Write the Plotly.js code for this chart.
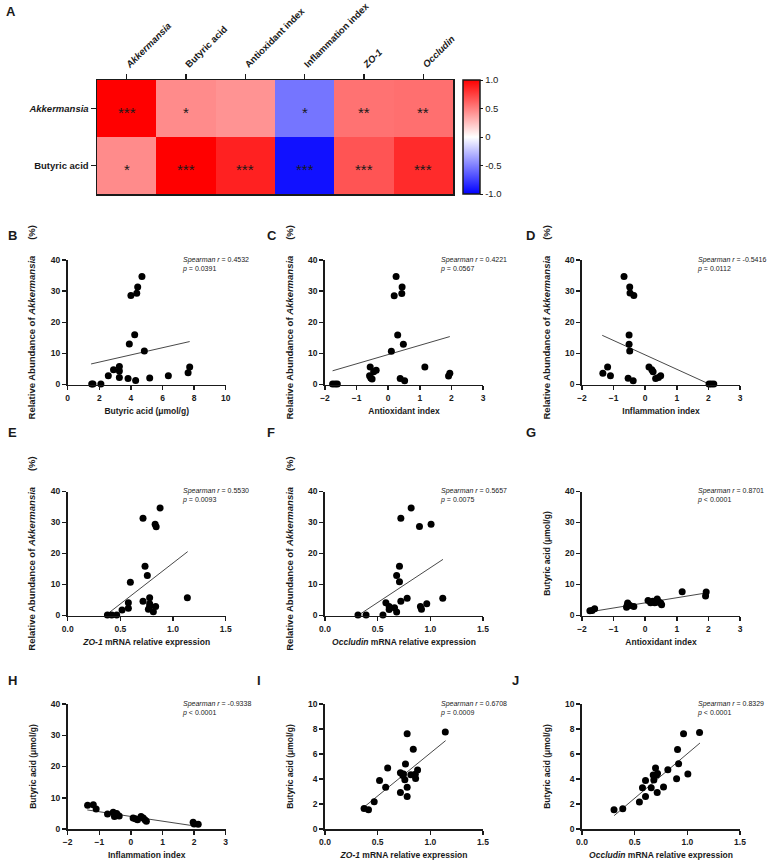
<!DOCTYPE html>
<html><head><meta charset="utf-8">
<script src="https://cdn.plot.ly/plotly-3.0.1.min.js"></script>
<style>html,body{margin:0;padding:0;background:#fff}</style>
</head><body><div id="chart" style="width:767px;height:860px"></div>
<script>
// ---------- Heatmap data (panel A) ----------
const hmCols = ['Akkermansia','Butyric acid','Antioxidant index','Inflammation index','ZO-1','Occludin'];
const hmColLabels = ['<i>Akkermansia</i>','Butyric acid','Antioxidant index','Inflammation index','<i>ZO-1</i>','<i>Occludin</i>'];
const hmRows = ['Akk','Butyric'];
const hmRowLabels = ['<i>Akkermansia</i>','Butyric acid'];
const hmZ = [[1, 0.4532, 0.4221, -0.5416, 0.5530, 0.5657],
             [0.4532, 1, 0.8701, -0.9338, 0.6708, 0.8329]];
const hmStars = [['***','*','','*','**','**'],
                 ['*','***','***','***','***','***']];
const cbTicks = [1, 0.5, 0, -0.5, -1];
const cbTickText = ['1.0','0.5','0','-0.5','-1.0'];

// ---------- Scatter data (panels B-J) ----------
const bX = [1.52,1.60,2.10,2.57,2.90,3.27,3.27,3.27,3.82,3.90,4.00,4.24,4.30,4.37,4.43,4.70,4.85,5.19,6.37,7.62,7.72];
const bY = [0.2,0.2,0.2,2.8,4.7,5.8,4.3,2.25,1.9,13.0,28.6,16.0,1.3,29.3,31.3,34.7,10.8,2.1,2.8,3.75,5.6];
const bFitX = [1.48,7.72], bFitY = [6.6,13.8];

const cX = [-1.76,-1.68,-1.61,-0.57,-0.59,-0.55,-0.51,-0.46,-0.38,0.10,0.19,0.25,0.30,0.38,0.43,0.44,0.48,0.52,1.16,1.91,1.95];
const cY = [0.2,0.2,0.2,5.6,2.8,2.1,1.8,4.1,4.6,10.7,28.5,34.7,15.9,1.9,29.2,31.3,12.9,1.2,5.6,2.7,3.6];
const cFitX = [-1.76,1.95], cFitY = [4.4,15.4];

const dX = [-1.34,-1.19,-1.10,-0.67,-0.54,-0.38,-0.51,-0.51,-0.49,-0.49,-0.48,-0.36,0.12,0.21,0.25,0.33,0.42,0.49,2.02,2.09,2.17];
const dY = [3.6,5.6,2.8,34.7,2.0,1.2,15.9,12.9,10.8,31.3,29.4,28.6,5.6,4.7,4.1,1.9,2.25,2.8,0.2,0.2,0.2];
const dFitX = [-1.36,1.97], dFitY = [15.8,0.4];

const eX = [0.377,0.418,0.465,0.516,0.576,0.576,0.595,0.715,0.715,0.734,0.756,0.778,0.778,0.778,0.766,0.813,0.835,0.830,0.840,0.877,1.136];
const eY = [0.2,0.2,0.2,1.8,4.1,2.3,10.75,4.6,31.4,15.9,12.9,5.7,3.8,2.9,2.0,1.2,2.9,29.4,28.6,34.7,5.7];
const eFitX = [0.358,1.139], eFitY = [0,20.6];

const fX = [0.313,0.390,0.550,0.578,0.609,0.609,0.660,0.680,0.720,0.780,0.680,0.707,0.707,0.720,0.818,0.897,1.007,0.906,0.916,0.966,1.118];
const fY = [0.2,0.2,0.2,4.1,2.9,1.9,2.5,1.1,4.6,5.6,12.9,15.9,10.9,31.4,34.7,28.7,29.4,2.9,2.0,3.8,5.6];
const fFitX = [0.322,1.12], fFitY = [0.2,18.1];

const gX = [-1.75,-1.68,-1.60,-0.59,-0.57,-0.555,-0.53,-0.48,-0.36,0.09,0.17,0.24,0.30,0.35,0.38,0.42,0.49,0.52,1.17,1.91,1.93];
const gY = [1.5,1.6,2.15,2.7,3.3,4.0,3.5,3.2,2.9,4.8,4.1,4.6,4.1,4.3,5.3,4.5,4.0,3.5,7.7,6.3,7.6];
const gFitX = [-1.8,1.89], gFitY = [1.1,7.2];

const hX = [-1.37,-1.19,-1.10,-0.74,-0.56,-0.52,-0.50,-0.48,-0.45,-0.43,-0.37,0.07,0.14,0.21,0.32,0.39,0.45,0.49,1.97,2.00,2.13];
const hY = [7.6,7.8,6.4,4.8,5.4,4.0,4.3,4.8,5.0,4.5,4.2,3.5,3.3,3.0,4.0,3.5,2.9,2.5,2.15,1.6,1.5];
const hFitX = [-1.38,2.0], hFitY = [6.1,1.0];

const iX = [0.371,0.413,0.467,0.518,0.576,0.595,0.716,0.716,0.739,0.745,0.758,0.764,0.780,0.780,0.780,0.815,0.838,0.857,0.860,0.879,1.142];
const iY = [1.65,1.55,2.18,3.88,3.35,4.89,2.93,4.50,4.28,4.40,3.94,5.21,7.63,3.35,2.60,4.34,6.38,4.39,4.04,4.73,7.77];
const iFitX = [0.37,1.145], iFitY = [1.75,7.07];

const jX = [0.304,0.387,0.545,0.574,0.603,0.603,0.657,0.676,0.682,0.698,0.707,0.714,0.717,0.774,0.815,0.898,0.907,0.917,0.964,1.005,1.116];
const jY = [1.55,1.63,2.16,3.31,3.89,2.61,3.31,4.32,3.92,4.88,4.32,2.93,4.45,3.36,4.75,4.03,6.37,5.23,7.63,4.40,7.73];
const jFitX = [0.305,1.12], jFitY = [1.07,6.88];

const rVals = ['0.4532','0.4221','-0.5416','0.5530','0.5657','0.8701','-0.9338','0.6708','0.8329'];
const pVals = ['= 0.0391','= 0.0567','= 0.0112','= 0.0093','= 0.0075','&lt; 0.0001','&lt; 0.0001','= 0.0009','&lt; 0.0001'];
const panelLetters = ['A','B','C','D','E','F','G','H','I','J'];

// ---------- Layout helpers ----------
const W = 767, H = 860;
const px = v => v / W, py = v => 1 - v / H;
const FONT = 'Liberation Sans, Arial, sans-serif';
const INK = '#1a1a1a';

const traces = [];
const layout = {
  width: W, height: H, margin: {l:0, r:0, t:0, b:0},
  paper_bgcolor: '#fff', plot_bgcolor: 'rgba(0,0,0,0)',
  showlegend: false, font: {family: FONT, color: INK},
  annotations: []
};

// Heatmap
traces.push({
  type: 'heatmap', x: hmCols, y: hmRows, z: hmZ, zmin: -1, zmax: 1,
  colorscale: [[0,'rgb(0,0,255)'],[0.5,'rgb(255,255,255)'],[1,'rgb(255,0,0)']],
  xaxis: 'x', yaxis: 'y', hoverinfo: 'skip',
  colorbar: {
    x: px(463), xanchor: 'left', xpad: 0, ypad: 0,
    y: py(137), yanchor: 'middle', len: 114, lenmode: 'pixels', thickness: 17,
    outlinewidth: 1.5, outlinecolor: INK,
    tickvals: cbTicks, ticktext: cbTickText, ticks: 'outside', ticklen: 3, tickwidth: 1, tickcolor: INK,
    tickfont: {size: 9.5, family: FONT, color: INK}
  }
});
layout.xaxis = {
  domain: [px(97), px(453)], anchor: 'y', side: 'top', type: 'category',
  tickvals: hmCols, ticktext: hmColLabels, tickangle: -45,
  ticks: 'outside', ticklen: 5, tickwidth: 1.5, tickcolor: INK,
  showline: true, mirror: true, linecolor: INK, linewidth: 1.5,
  showgrid: false, zeroline: false, fixedrange: true,
  tickfont: {size: 9.5, weight: 'bold', family: FONT, color: INK}
};
layout.yaxis = {
  domain: [py(194), py(80)], anchor: 'x', type: 'category', autorange: 'reversed',
  tickvals: hmRows, ticktext: hmRowLabels,
  ticks: 'outside', ticklen: 5, tickwidth: 1.5, tickcolor: INK,
  showline: true, mirror: true, linecolor: INK, linewidth: 1.5,
  showgrid: false, zeroline: false, fixedrange: true,
  tickfont: {size: 9.5, weight: 'bold', family: FONT, color: INK}
};
hmRows.forEach((r, i) => hmCols.forEach((c, j) => {
  if (hmStars[i][j]) layout.annotations.push({
    xref: 'x', yref: 'y', x: c, y: r, text: hmStars[i][j], showarrow: false,
    yshift: -4, font: {size: 15, color: INK, family: FONT}
  });
}));

// Scatter panels
const gap = '\u00a0\u00a0\u00a0\u00a0\u00a0\u00a0';
const akkTitle = 'Relative Abundance of <i>Akkermansia</i>' + gap + '(%)';
const butTitle = 'Butyric acid (\u03bcmol/g)';
const colX = [[67.7,225.7],[325,483],[582,740]];
const rowY = [[260,384.5],[491.5,615.5],[704,829]];
const panels = [
  {xs:bX, ys:bY, fx:bFitX, fy:bFitY, xr:[0,10], xd:2, xf:'', yr:[0,40], yd:10, xt:'Butyric acid (\u03bcmol/g)', yt:akkTitle, ys2:9.5},
  {xs:cX, ys:cY, fx:cFitX, fy:cFitY, xr:[-2,3], xd:1, xf:'', yr:[0,40], yd:10, xt:'Antioxidant index', yt:akkTitle, ys2:9.5},
  {xs:dX, ys:dY, fx:dFitX, fy:dFitY, xr:[-2,3], xd:1, xf:'', yr:[0,40], yd:10, xt:'Inflammation index', yt:akkTitle, ys2:9.5},
  {xs:eX, ys:eY, fx:eFitX, fy:eFitY, xr:[0,1.5], xd:0.5, xf:'.1f', yr:[0,40], yd:10, xt:'<i>ZO-1</i> mRNA relative expression', yt:akkTitle, ys2:9.5},
  {xs:fX, ys:fY, fx:fFitX, fy:fFitY, xr:[0,1.5], xd:0.5, xf:'.1f', yr:[0,40], yd:10, xt:'<i>Occludin</i> mRNA relative expression', yt:akkTitle, ys2:9.5},
  {xs:gX, ys:gY, fx:gFitX, fy:gFitY, xr:[-2,3], xd:1, xf:'', yr:[0,40], yd:10, xt:'Antioxidant index', yt:butTitle, ys2:8.5},
  {xs:hX, ys:hY, fx:hFitX, fy:hFitY, xr:[-2,3], xd:1, xf:'', yr:[0,40], yd:10, xt:'Inflammation index', yt:butTitle, ys2:8.5},
  {xs:iX, ys:iY, fx:iFitX, fy:iFitY, xr:[0,1.5], xd:0.5, xf:'.1f', yr:[0,10], yd:2, xt:'<i>ZO-1</i> mRNA relative expression', yt:butTitle, ys2:8.5},
  {xs:jX, ys:jY, fx:jFitX, fy:jFitY, xr:[0,1.5], xd:0.5, xf:'.1f', yr:[0,10], yd:2, xt:'<i>Occludin</i> mRNA relative expression', yt:butTitle, ys2:8.5}
];

panels.forEach((p, k) => {
  const n = k + 2;
  const xa = 'x' + n, ya = 'y' + n;
  const xd = colX[k % 3], yd = rowY[Math.floor(k / 3)];
  traces.push({type:'scatter', mode:'lines', x:p.fx, y:p.fy, xaxis:xa, yaxis:ya,
    line:{color:'#333', width:0.9}, hoverinfo:'skip', cliponaxis:false});
  traces.push({type:'scatter', mode:'markers', x:p.xs, y:p.ys, xaxis:xa, yaxis:ya,
    marker:{color:'#000', size:7, line:{width:0}}, hoverinfo:'skip', cliponaxis:false});
  const common = {showgrid:false, zeroline:false, showline:true, linecolor:INK, linewidth:1.8,
    ticks:'outside', ticklen:4, tickwidth:1.5, tickcolor:INK, fixedrange:true,
    tickfont:{size:8.5, weight:'bold', family:FONT, color:INK}};
  layout['xaxis' + n] = Object.assign({}, common, {
    domain:[px(xd[0]), px(xd[1])], anchor:ya, range:p.xr, dtick:p.xd, tick0:p.xr[0], tickformat:p.xf,
    title:{text:p.xt, standoff:6, font:{size:8.5, weight:'bold', family:FONT, color:INK}}
  });
  layout['yaxis' + n] = Object.assign({}, common, {
    domain:[py(yd[1]), py(yd[0])], anchor:xa, range:p.yr, dtick:p.yd, tick0:0,
    title:{text:p.yt, standoff:13, font:{size:p.ys2, weight:'bold', family:FONT, color:INK}}
  });
  layout.annotations.push({
    xref:'paper', yref:'paper', x:px(xd[0] + 112.5), y:py(yd[0] - 6.5),
    xanchor:'left', yanchor:'top', align:'left', showarrow:false,
    text:'<i>Spearman r</i> = ' + rVals[k] + '<br><i>p</i> ' + pVals[k],
    font:{size:7, family:FONT, color:INK}
  });
});

// Panel letters
const letterPos = [[4,12],[6,235],[265,235],[524,235],[6,432],[265,432],[524,432],[6,680],[255,680],[510,680]];
panelLetters.forEach((L, i) => layout.annotations.push({
  xref:'paper', yref:'paper', x:px(letterPos[i][0]), y:py(letterPos[i][1]),
  xanchor:'left', yanchor:'middle', showarrow:false, text:L,
  font:{size:13, weight:'bold', family:FONT, color:INK}
}));

Plotly.newPlot('chart', traces, layout, {staticPlot:true, displayModeBar:false});
</script></body></html>
